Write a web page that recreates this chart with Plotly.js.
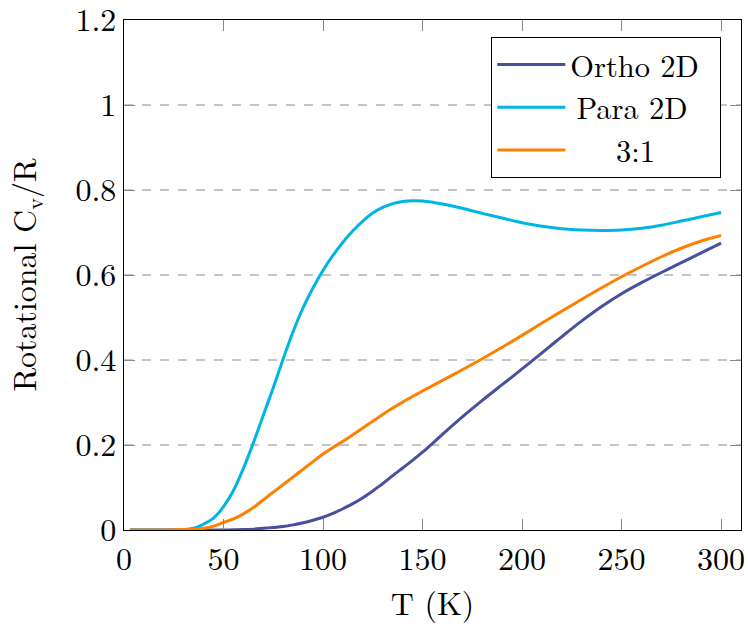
<!DOCTYPE html>
<html>
<head>
<meta charset="utf-8">
<script src="https://cdn.plot.ly/plotly-3.0.1.min.js"></script>
<style>html,body{margin:0;padding:0;background:#fff;}#chart{width:748px;height:624px;}</style>
</head>
<body>
<div id="chart"></div>
<script>
// Temperature (K)
const temperature = [3, 10, 20, 30, 35, 40, 45, 50, 55, 60, 65, 70, 75, 80, 85, 90, 95, 100, 105, 110, 115, 120, 125, 130, 135, 140, 145, 150, 160, 170, 180, 190, 200, 210, 220, 230, 240, 250, 260, 270, 280, 290, 300];
// Rotational Cv/R
const ortho2D = [0, 0, 0, 0, 0, 0, 0, 0, 0.0005, 0.001, 0.002, 0.004, 0.006, 0.008, 0.012, 0.017, 0.023, 0.030, 0.039, 0.050, 0.062, 0.076, 0.092, 0.109, 0.128, 0.146, 0.164, 0.183, 0.225, 0.266, 0.305, 0.342, 0.379, 0.417, 0.455, 0.492, 0.526, 0.556, 0.582, 0.606, 0.629, 0.652, 0.675];
const para2D = [0, 0, 0, 0.001, 0.004, 0.014, 0.028, 0.055, 0.093, 0.145, 0.205, 0.270, 0.335, 0.403, 0.467, 0.523, 0.570, 0.611, 0.646, 0.677, 0.704, 0.727, 0.746, 0.759, 0.768, 0.773, 0.775, 0.774, 0.767, 0.757, 0.745, 0.734, 0.723, 0.715, 0.709, 0.706, 0.705, 0.706, 0.710, 0.717, 0.727, 0.737, 0.747];
const mix31 = [0, 0, 0, 0.001, 0.002, 0.004, 0.009, 0.018, 0.026, 0.038, 0.053, 0.071, 0.089, 0.107, 0.125, 0.143, 0.161, 0.179, 0.194, 0.209, 0.224, 0.240, 0.256, 0.272, 0.287, 0.301, 0.314, 0.327, 0.352, 0.377, 0.403, 0.430, 0.458, 0.487, 0.515, 0.543, 0.570, 0.596, 0.620, 0.643, 0.663, 0.680, 0.693];

const seriesNames = ["Ortho 2D\u00a0", "\u2009Para 2D", "\u00a0\u00a0\u00a03:1"];
const xTickVals = [0, 50, 100, 150, 200, 250, 300];
const xTickText = ["0", "50", "100", "150", "200", "250", "300"];
const yTickVals = [0, 0.2, 0.4, 0.6, 0.8, 1, 1.2];
const yTickText = ["0", "0.2", "0.4", "0.6", "0.8", "1", "1.2"];

const FONT = "'Latin Modern Roman', 'Liberation Serif', 'DejaVu Serif', serif";
const FS = 32;

const traces = [
  {x: temperature, y: ortho2D, name: seriesNames[0], mode: "lines", line: {color: "#46509d", width: 3, shape: "spline", smoothing: 0.8}},
  {x: temperature, y: para2D, name: seriesNames[1], mode: "lines", line: {color: "#00b5e6", width: 3, shape: "spline", smoothing: 0.8}},
  {x: temperature, y: mix31, name: seriesNames[2], mode: "lines", line: {color: "#ff8000", width: 3, shape: "spline", smoothing: 0.8}}
];

const layout = {
  width: 748, height: 624,
  margin: {l: 124, r: 7, t: 20, b: 94},
  paper_bgcolor: "#fff", plot_bgcolor: "#fff",
  font: {family: FONT, size: FS, color: "#000"},
  showlegend: true,
  legend: {
    x: 0.9676, y: 0.9667, xanchor: "right", yanchor: "top",
    bordercolor: "#000", borderwidth: 1.3, bgcolor: "#fff",
    font: {family: FONT, size: 30.5, color: "#000"},
    itemwidth: 68
  },
  xaxis: {
    range: [0, 310], tickvals: xTickVals, ticktext: xTickText,
    showline: true, linecolor: "#000", linewidth: 1.3, mirror: "ticks",
    ticks: "inside", ticklen: 11, tickcolor: "#888", tickwidth: 1,
    showgrid: false, zeroline: false, ticklabeloverflow: "allow",
    tickfont: {family: FONT, size: FS},
    title: {text: "T (K)", font: {family: FONT, size: FS}, standoff: 10}
  },
  yaxis: {
    range: [0, 1.2001], tickvals: yTickVals, ticktext: yTickText,
    showline: true, linecolor: "#000", linewidth: 1.3, mirror: "ticks",
    ticks: "inside", ticklen: 11, tickcolor: "#888", tickwidth: 1,
    showgrid: true, gridcolor: "#c4c4c4", gridwidth: 1.3, griddash: "dash",
    zeroline: false, ticklabeloverflow: "allow",
    tickfont: {family: FONT, size: FS},
    title: {text: "Rotational C<sub>v</sub>/R", font: {family: FONT, size: FS}, standoff: 30}
  }
};

Plotly.newPlot("chart", traces, layout, {displayModeBar: false, staticPlot: true});
</script>
</body>
</html>
